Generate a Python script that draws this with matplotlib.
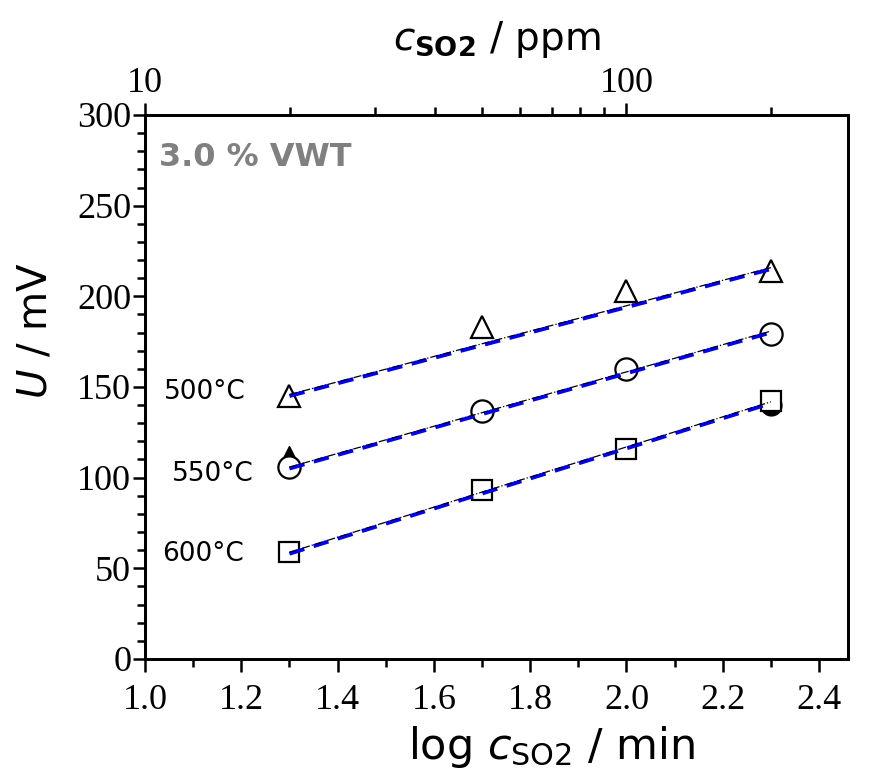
import matplotlib.pyplot as plt
import numpy as np
from matplotlib.ticker import MultipleLocator, LogLocator, NullFormatter, FixedFormatter, FixedLocator

plt.rcParams['mathtext.fontset'] = 'dejavusans'

# log concentration positions
logc = [1.3, 1.7, 2.0, 2.3]

# sensor voltage per temperature (mV)
u500 = [145, 183, 203, 214]
u550 = [106, 137, 160, 179]
u600 = [59, 93, 116, 142]

# linear fits (slope, intercept) per temperature
fit500 = [70, 54]
fit550 = [75, 7.5]
fit600 = [83, -49.9]

# hidden extra points
extraTriX, extraTriY = [1.3], [112]
extraCirX, extraCirY = [2.3], [140]

tempLabels = ['500°C', '550°C', '600°C']
tempLabelPos = [(1.21, 147), (1.225, 102), (1.205, 58)]

fig = plt.figure(figsize=(8.71, 7.77), dpi=100)
ax = fig.add_axes([0.1665, 0.152, 0.807, 0.700])

serif = 'Liberation Serif'

ax.plot(extraTriX, extraTriY, marker='^', color='black', ls='none', ms=14, zorder=3)
ax.plot(extraCirX, extraCirY, marker='o', color='black', ls='none', ms=15, zorder=3)

series = [(u500, '^', fit500), (u550, 'o', fit550), (u600, 's', fit600)]
xs = np.array(logc)
for vals, mk, (k, d) in series:
    xfit = np.array([xs[0], xs[-1]])
    ax.plot(xfit, k * xfit + d, color='blue', ls=(0, (4, 2.5)), lw=2.8, zorder=4)
    ax.plot(xfit, k * xfit + d + 0.8, color='black', ls='-.', lw=0.9, zorder=5)
    ax.plot(xs, vals, marker=mk, ls='none', ms=16 if mk != 's' else 14,
            mfc='white', mec='black', mew=1.6, zorder=3)

for txt, (tx, ty) in zip(tempLabels, tempLabelPos):
    ax.text(tx, ty, txt, fontsize=19, ha='right', va='center', family='DejaVu Sans')

ax.text(0.02, 0.95, '3.0 % VWT', transform=ax.transAxes, fontsize=23,
        fontweight='bold', color='#808080', va='top', ha='left')

ax.set_xlim(1.0, 2.46)
ax.set_ylim(0, 300)
ax.xaxis.set_major_locator(MultipleLocator(0.2))
ax.xaxis.set_minor_locator(MultipleLocator(0.1))
ax.yaxis.set_major_locator(MultipleLocator(50))
ax.yaxis.set_minor_locator(MultipleLocator(10))
ax.xaxis.set_major_formatter(plt.FuncFormatter(lambda v, p: '%.1f' % v))

ax.tick_params(which='both', direction='out', top=False, right=False, width=1.8)
ax.tick_params(which='major', length=9, labelsize=26)
ax.tick_params(axis='y', which='major', pad=1)
ax.tick_params(axis='x', which='major', pad=9)
ax.tick_params(which='minor', length=6)
for lbl in ax.get_xticklabels() + ax.get_yticklabels():
    lbl.set_family(serif)

for sp in ax.spines.values():
    sp.set_linewidth(2)

ax.set_xlabel(r'log $\mathit{c}_{\mathrm{SO2}}$ / min', fontsize=31)
ax.xaxis.set_label_coords(0.578, -0.12)
ax.set_ylabel(r'$\mathit{U}$ / mV', fontsize=29)
ax.yaxis.set_label_coords(-0.128, 0.603)

top = ax.twiny()
top.set_xscale('log')
top.set_xlim(10 ** 1.0, 10 ** 2.46)
top.xaxis.set_major_locator(FixedLocator([10, 100]))
top.xaxis.set_major_formatter(FixedFormatter(['10', '100']))
top.xaxis.set_minor_locator(LogLocator(base=10, subs=np.arange(2, 10)))
top.xaxis.set_minor_formatter(NullFormatter())
top.tick_params(which='both', direction='out', width=1.8)
top.tick_params(which='major', length=9, labelsize=26, pad=2)
top.tick_params(which='minor', length=6)
for lbl in top.get_xticklabels():
    lbl.set_family(serif)
top.set_xlabel(r'$\mathit{c}_{\mathbf{SO2}}$ / ppm', fontsize=28)
top.xaxis.set_label_coords(0.50, 1.12)
for sp in top.spines.values():
    sp.set_linewidth(2)

fig.savefig('out.png', dpi=100)
